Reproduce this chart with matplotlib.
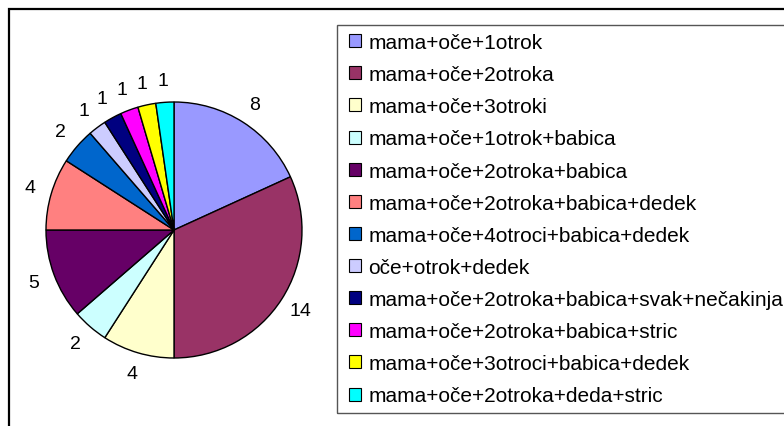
import matplotlib.pyplot as plt
from matplotlib.patches import Rectangle, Patch

plt.rcParams['font.family'] = ['Liberation Sans', 'DejaVu Sans']

labels = ['mama+oče+1otrok', 'mama+oče+2otroka', 'mama+oče+3otroki',
          'mama+oče+1otrok+babica', 'mama+oče+2otroka+babica',
          'mama+oče+2otroka+babica+dedek', 'mama+oče+4otroci+babica+dedek',
          'oče+otrok+dedek', 'mama+oče+2otroka+babica+svak+nečakinja',
          'mama+oče+2otroka+babica+stric', 'mama+oče+3otroci+babica+dedek',
          'mama+oče+2otroka+deda+stric']
values = [8, 14, 4, 2, 5, 4, 2, 1, 1, 1, 1, 1]
colors = ['#9999FF', '#993366', '#FFFFCC', '#CCFFFF', '#660066', '#FF8080',
          '#0066CC', '#CCCCFF', '#000080', '#FF00FF', '#FFFF00', '#00FFFF']

W, H = 784, 427
fig = plt.figure(figsize=(W / 100, H / 100), dpi=100)

# pie axes: centre (174, 231) px, radius 128 px
r = 128
cx, cy = 174, 231
half = 1.3 * r
ax = fig.add_axes([(cx - half) / W, (H - cy - half) / H, 2 * half / W, 2 * half / H])
total = sum(values)
ax.pie(values, colors=colors, startangle=90, counterclock=False,
       wedgeprops=dict(edgecolor='black', linewidth=1.0),
       autopct=lambda p: '%d' % round(p * total / 100), pctdistance=1.17,
       textprops=dict(fontsize=14, color='black'))
ax.set_xlim(-1.3, 1.3)
ax.set_ylim(-1.3, 1.3)
ax.set_aspect('equal')
ax.axis('off')

# outer chart frame
fig.patches.append(Rectangle((9 / W, -0.1), 1.2, (H - 10) / H + 0.1,
                             transform=fig.transFigure, fill=False,
                             edgecolor='black', linewidth=1.6))
# legend frame
fig.patches.append(Rectangle((337 / W, (H - 414) / H), 1.0, (414 - 26) / H,
                             transform=fig.transFigure, fill=False,
                             edgecolor='#555555', linewidth=1.0))

handles = [Patch(facecolor=c, edgecolor='black', linewidth=0.8) for c in colors]
fig.legend(handles, labels, loc='upper left',
           bbox_to_anchor=(349 / W, (H - 34) / H), bbox_transform=fig.transFigure,
           frameon=False, fontsize=15.0, borderpad=0, borderaxespad=0,
           handlelength=0.58, handleheight=0.58, handletextpad=0.34,
           labelspacing=0.63)

fig.savefig('out.png', dpi=100)
